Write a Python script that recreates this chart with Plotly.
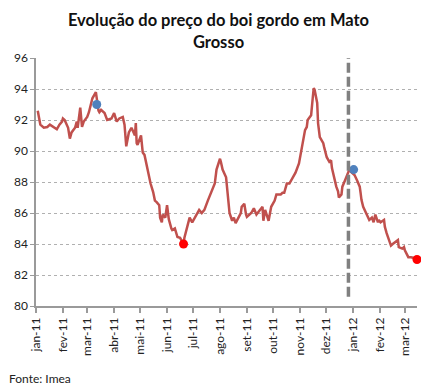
import plotly.graph_objects as go

dates = [
    "2011-01-03", "2011-01-04", "2011-01-06", "2011-01-10", "2011-01-14", "2011-01-17",
    "2011-01-21", "2011-01-25", "2011-01-28", "2011-01-31", "2011-02-01", "2011-02-03",
    "2011-02-07", "2011-02-09", "2011-02-11", "2011-02-15", "2011-02-17", "2011-02-18",
    "2011-02-21", "2011-02-23", "2011-02-25", "2011-03-01", "2011-03-03", "2011-03-07",
    "2011-03-10", "2011-03-11", "2011-03-14", "2011-03-15", "2011-03-17", "2011-03-21",
    "2011-03-24", "2011-03-29", "2011-04-01", "2011-04-04", "2011-04-07", "2011-04-11",
    "2011-04-13", "2011-04-15", "2011-04-18", "2011-04-21", "2011-04-25", "2011-04-26",
    "2011-04-27", "2011-04-28", "2011-05-02", "2011-05-03", "2011-05-04", "2011-05-06",
    "2011-05-09", "2011-05-10", "2011-05-12", "2011-05-13", "2011-05-16", "2011-05-18",
    "2011-05-20", "2011-05-23", "2011-05-24", "2011-05-26", "2011-05-27", "2011-05-30",
    "2011-06-01", "2011-06-02", "2011-06-03", "2011-06-06", "2011-06-07", "2011-06-10",
    "2011-06-13", "2011-06-16", "2011-06-20", "2011-06-21", "2011-06-24", "2011-06-27",
    "2011-06-30", "2011-07-05", "2011-07-08", "2011-07-11", "2011-07-14", "2011-07-18",
    "2011-07-22", "2011-07-26", "2011-07-28", "2011-08-01", "2011-08-02", "2011-08-04",
    "2011-08-08", "2011-08-09", "2011-08-11", "2011-08-12", "2011-08-15", "2011-08-17",
    "2011-08-19", "2011-08-25", "2011-08-26", "2011-08-29", "2011-08-31", "2011-09-01",
    "2011-09-06", "2011-09-09", "2011-09-12", "2011-09-15", "2011-09-19", "2011-09-20",
    "2011-09-22", "2011-09-26", "2011-09-29", "2011-10-03", "2011-10-05", "2011-10-10",
    "2011-10-12", "2011-10-14", "2011-10-17", "2011-10-20", "2011-10-24", "2011-10-27",
    "2011-10-31", "2011-11-01", "2011-11-03", "2011-11-04", "2011-11-07", "2011-11-09",
    "2011-11-10", "2011-11-14", "2011-11-15", "2011-11-16", "2011-11-17", "2011-11-18",
    "2011-11-21", "2011-11-22", "2011-11-24", "2011-11-28", "2011-11-29", "2011-12-02",
    "2011-12-05", "2011-12-07", "2011-12-08", "2011-12-12", "2011-12-13", "2011-12-15",
    "2011-12-16", "2011-12-19", "2011-12-20", "2011-12-23", "2011-12-28", "2011-12-30",
    "2012-01-03", "2012-01-06", "2012-01-09", "2012-01-10", "2012-01-11", "2012-01-13",
    "2012-01-16", "2012-01-18", "2012-01-20", "2012-01-23", "2012-01-25", "2012-01-27",
    "2012-01-30", "2012-01-31", "2012-02-02", "2012-02-06", "2012-02-07", "2012-02-09",
    "2012-02-13", "2012-02-14", "2012-02-16", "2012-02-22", "2012-02-23", "2012-02-27",
    "2012-02-29", "2012-03-01", "2012-03-05", "2012-03-08", "2012-03-12", "2012-03-14",
]
prices = [
    92.6, 92.3, 91.7, 91.5, 91.55, 91.7,
    91.55, 91.4, 91.7, 91.9, 92.1, 92.0,
    91.5, 90.8, 91.2, 91.5, 91.9, 91.5,
    92.8, 91.55, 91.9, 92.2, 92.5, 93.4,
    93.7, 93.8, 92.6, 92.5, 92.65, 92.45,
    92.0, 92.1, 92.45, 91.9, 92.1, 92.2,
    91.7, 90.3, 91.2, 91.5, 91.0, 91.8,
    90.5, 90.4, 91.0, 90.4, 89.9, 89.75,
    88.9, 88.6, 88.1, 87.9, 87.35, 86.8,
    86.7, 86.5, 85.7, 85.4, 85.9, 85.7,
    86.5, 86.0, 85.6, 85.0, 84.9, 85.0,
    84.45, 84.4, 84.0, 84.4, 85.1, 85.7,
    85.4, 85.9, 86.2, 86.0, 86.2, 86.8,
    87.3, 87.9, 88.8, 89.5, 89.3, 88.8,
    88.3, 87.7, 87.0, 86.0, 85.5, 85.7,
    85.35, 86.0, 86.4, 86.6, 85.9, 85.75,
    86.0, 86.3, 85.9, 86.1, 86.4, 85.5,
    86.2, 85.5, 86.4, 86.8, 87.2, 87.2,
    87.3, 87.3, 87.9, 87.9, 88.3, 88.6,
    89.2, 89.5, 90.05, 90.25, 91.35, 91.55,
    92.0, 92.3, 92.75, 93.5, 94.05, 93.95,
    93.1, 91.8, 90.9, 90.5, 90.25, 89.6,
    89.3, 89.4, 88.9, 87.9, 87.7, 87.4,
    87.0, 87.2, 87.7, 88.1, 88.8, 88.65,
    88.45, 88.1, 87.7, 87.3, 86.85, 86.4,
    86.0, 85.7, 85.55, 85.7, 85.4, 85.9,
    85.4, 85.55, 85.4, 85.55, 85.1, 84.7,
    84.05, 83.9, 84.0, 84.25, 83.8, 83.7,
    83.8, 83.6, 83.15, 83.15, 83.1, 83.0,
]

high_dates = ["2011-03-12", "2012-01-02"]
high_values = [93.0, 88.8]
low_dates = ["2011-06-20", "2012-03-15"]
low_values = [84.0, 83.0]

month_ticks = [
    "2011-01-01", "2011-02-01", "2011-03-01", "2011-04-01", "2011-05-01", "2011-06-01",
    "2011-07-01", "2011-08-01", "2011-09-01", "2011-10-01", "2011-11-01", "2011-12-01",
    "2012-01-01", "2012-02-01", "2012-03-01",
]
month_labels = [
    "jan-11", "fev-11", "mar-11", "abr-11", "mai-11", "jun-11", "jul-11", "ago-11",
    "set-11", "out-11", "nov-11", "dez-11", "jan-12", "fev-12", "mar-12",
]
divider_date = "2011-12-27"

fig = go.Figure()
fig.add_trace(go.Scatter(x=dates, y=prices, mode="lines",
                         line=dict(color="#C0504D", width=2.5), showlegend=False,
                         hoverinfo="x+y"))
fig.add_trace(go.Scatter(x=high_dates, y=high_values, mode="markers",
                         marker=dict(color="#4F81BD", size=9), showlegend=False,
                         cliponaxis=False))
fig.add_trace(go.Scatter(x=low_dates, y=low_values, mode="markers",
                         marker=dict(color="#FF0000", size=9), showlegend=False,
                         cliponaxis=False))

fig.add_shape(type="line", xref="x", yref="y", x0=divider_date, x1=divider_date,
              y0=80.6, y1=96.8, line=dict(color="#808080", width=3.5, dash="10px,4px"))

# page body adds an 8px margin, so the figure is sized to fit inside the window
fig.update_layout(
    width=421, height=381,
    margin=dict(l=28, r=12, t=50, b=83, autoexpand=False),
    paper_bgcolor="white", plot_bgcolor="white",
    font=dict(family="Lato, Open Sans, sans-serif", color="#222", size=12),
    title=dict(text="<b>Evolução do preço do boi gordo em Mato<br>Grosso</b>",
               x=0.5, xanchor="center", y=0.952, yanchor="top",
               font=dict(size=16.5, color="#111")),
    xaxis=dict(type="date", range=["2011-01-01", "2012-03-15"], automargin=False,
               tickvals=month_ticks, ticktext=month_labels, tickangle=-90,
               showgrid=False, showline=True, linecolor="#9a9a9a", linewidth=1.5,
               ticks="outside", ticklen=5, tickcolor="#9a9a9a", tickwidth=1.5,
               tickfont=dict(size=12, color="#222"), zeroline=False),
    yaxis=dict(range=[80, 96], dtick=2, showgrid=True, gridcolor="#b0b0b0",
               griddash="dot", gridwidth=1, showline=True, linecolor="#9a9a9a",
               automargin=False,
               linewidth=1.5, ticks="outside", ticklen=4, tickcolor="#9a9a9a",
               tickfont=dict(size=12, color="#222"), zeroline=False),
    annotations=[dict(text="Fonte: Imea", xref="paper", yref="paper", x=-0.075,
                      y=-0.255, xanchor="left", yanchor="top", showarrow=False,
                      font=dict(size=12, color="#222"))],
)

fig.write_html("out.html")
